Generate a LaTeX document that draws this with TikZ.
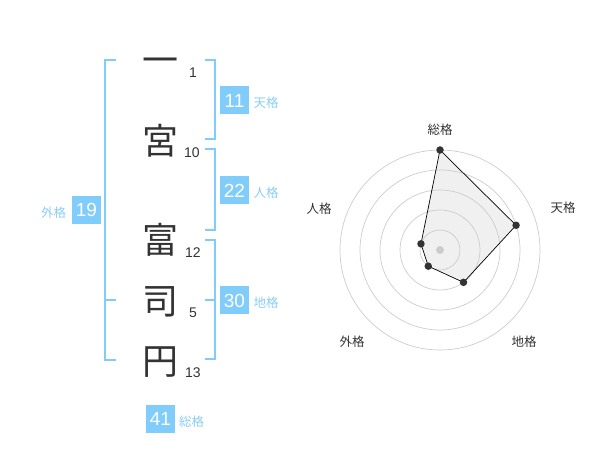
\documentclass[tikz,border=0pt]{standalone}
\usepackage{fontspec}
\setmainfont{Liberation Sans}
\newfontfamily\cjk{Noto Sans CJK JP}
\definecolor{bl}{HTML}{80CCFA}
\definecolor{bltxt}{HTML}{8ACDF5}
\definecolor{ink}{HTML}{333333}
\definecolor{ring}{HTML}{CCCCCC}
\definecolor{area}{HTML}{F0F0F0}
\begin{document}
\begin{tikzpicture}[x=1pt,y=-1pt,
  bigchar/.style={inner sep=0pt,text height=31.7pt,text depth=4.3pt,font=\cjk\fontsize{36}{36}\selectfont,text=ink},
  strokes/.style={inner sep=0pt,font=\fontsize{14}{14}\selectfont,text=ink},
  valbox/.style={fill=bl,minimum width=29pt,minimum height=28pt,inner sep=0pt,text=white,font=\fontsize{19}{19}\selectfont},
  kaku/.style={inner sep=0pt,text=bltxt,font=\cjk\fontsize{12.5}{12.5}\selectfont},
  brk/.style={draw=bl,line width=1.6pt},
  ring/.style={draw=ring,line width=0.7pt},
  rlabel/.style={inner sep=0pt,text=ink,font=\cjk\fontsize{12.5}{12.5}\selectfont},
  dot/.style={circle,fill=ink,inner sep=0pt,minimum size=7.5pt}]
\useasboundingbox (0,0) rectangle (600,470);
% characters
\node[bigchar] (c1) at (160,60) {一};
\node[bigchar] (c2) at (160,141) {宮};
\node[bigchar] (c3) at (160,240) {富};
\node[bigchar] (c4) at (160,301) {司};
\node[bigchar] (c5) at (160,361) {円};
\node[strokes] (n1) at (193,73) {1};
\node[strokes] (n2) at (192,153) {10};
\node[strokes] (n3) at (193,253) {12};
\node[strokes] (n4) at (193,313) {5};
\node[strokes] (n5) at (193,373) {13};
% brackets
\draw[brk] (116,60) -- (105,60) -- (105,360) -- (116,360);
\draw[brk] (105,300) -- (116,300);
\draw[brk] (205,60) -- (215,60) -- (215,139) -- (205,139);
\draw[brk] (205,149) -- (215,149) -- (215,230) -- (205,230);
\draw[brk] (205,240) -- (215,240) -- (215,359) -- (205,359);
\draw[brk] (205,300) -- (215,300);
% value boxes
\node[valbox] (ten) at (234.5,100.5) {11};
\node[kaku] (tenl) at (266,103) {天格};
\node[valbox] (jin) at (234.5,190.5) {22};
\node[kaku] (jinl) at (266,193) {人格};
\node[valbox] (chi) at (234.5,300.5) {30};
\node[kaku] (chil) at (266,303) {地格};
\node[valbox] (gai) at (86.5,210) {19};
\node[kaku] (gail) at (53.5,213) {外格};
\node[valbox] (sou) at (160.5,419) {41};
\node[kaku] (soul) at (191.5,422) {総格};
% radar chart
\begin{scope}[shift={(440,250)},yscale=-1]
  \coordinate (pS) at (90:100);
  \coordinate (pT) at (18:80);
  \coordinate (pC) at (-54:40);
  \coordinate (pG) at (-126:20);
  \coordinate (pJ) at (162:20);
  \fill[area] (pS) -- (pT) -- (pC) -- (pG) -- (pJ) -- cycle;
  \foreach \r in {20,40,60,80,100} \draw[ring] (0,0) circle (\r);
  \draw[black,line width=0.7pt] (pS) -- (pT) -- (pC) -- (pG) -- (pJ) -- cycle;
  \node[circle,fill=ring,inner sep=0pt,minimum size=8pt] (ctr) at (0,0) {};
  \foreach \p in {pS,pT,pC,pG,pJ} \node[dot] at (\p) {};
\end{scope}
\node[rlabel] (lS) at (440,130) {総格};
\node[rlabel] (lT) at (563,208) {天格};
\node[rlabel] (lC) at (524,342) {地格};
\node[rlabel] (lG) at (352,342) {外格};
\node[rlabel] (lJ) at (319,209) {人格};
\end{tikzpicture}
\end{document}
